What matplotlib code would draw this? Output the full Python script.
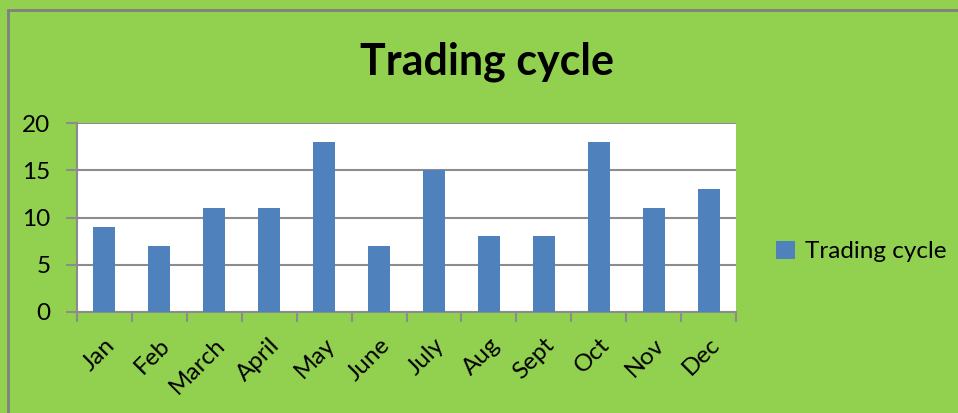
import matplotlib.pyplot as plt
from matplotlib.patches import Rectangle

months = ['Jan', 'Feb', 'March', 'April', 'May', 'June', 'July', 'Aug', 'Sept', 'Oct', 'Nov', 'Dec']
trading = [9, 7, 11, 11, 18, 7, 15, 8, 8, 18, 11, 13]

GREEN = '#92D050'
BLUE = '#4F81BD'
GRID = '#8C8C8C'

plt.rcParams['font.family'] = ['Lato', 'DejaVu Sans']

fig = plt.figure(figsize=(9.58, 4.13), dpi=100)
fig.patch.set_facecolor(GREEN)
# outer chart border (only top/left visible in the original crop)
fig.add_artist(Rectangle((8 / 958, -0.1), 1.2, (413 - 9.5) / 413 + 0.1,
                         transform=fig.transFigure, fill=False,
                         edgecolor='#808080', linewidth=2))

ax = fig.add_axes([77 / 958, 1 - 312 / 413, (736 - 77) / 958, (312 - 123) / 413])
ax.set_facecolor('white')

x = range(len(months))
ax.bar(x, trading, width=0.4, color=BLUE, zorder=3, label='Trading cycle')

ax.set_ylim(0, 20)
ax.set_yticks([0, 5, 10, 15, 20])
ax.set_xlim(-0.5, len(months) - 0.5)
ax.yaxis.grid(True, color=GRID, linewidth=1.5, zorder=0)

ax.set_xticks([i - 0.5 for i in range(len(months) + 1)], minor=False)
ax.set_xticklabels([])
ax.set_xticks(list(x), minor=True)
ax.set_xticklabels(months, minor=True, rotation=45, ha='right',
                   rotation_mode='anchor', fontsize=17.5)
ax.tick_params(axis='x', which='minor', length=0, pad=16)
ax.tick_params(axis='x', which='major', length=7, width=1.5, color=GRID, direction='out')
ax.tick_params(axis='y', length=8, width=1.5, color=GRID, labelsize=17.5, pad=11)

for s in ['top', 'right']:
    ax.spines[s].set_visible(False)
for s in ['left', 'bottom']:
    ax.spines[s].set_color(GRID)
    ax.spines[s].set_linewidth(1.5)

fig.text(487 / 958, 1 - 62 / 413, 'Trading cycle', ha='center', va='center',
         fontsize=31, fontweight='bold')

ax.legend(loc='center left', bbox_to_anchor=(1.027, 0.32), frameon=False,
          fontsize=17.5, handlelength=0.8, handleheight=0.8, handletextpad=0.4)

fig.savefig('out.png', dpi=100, facecolor=GREEN)
